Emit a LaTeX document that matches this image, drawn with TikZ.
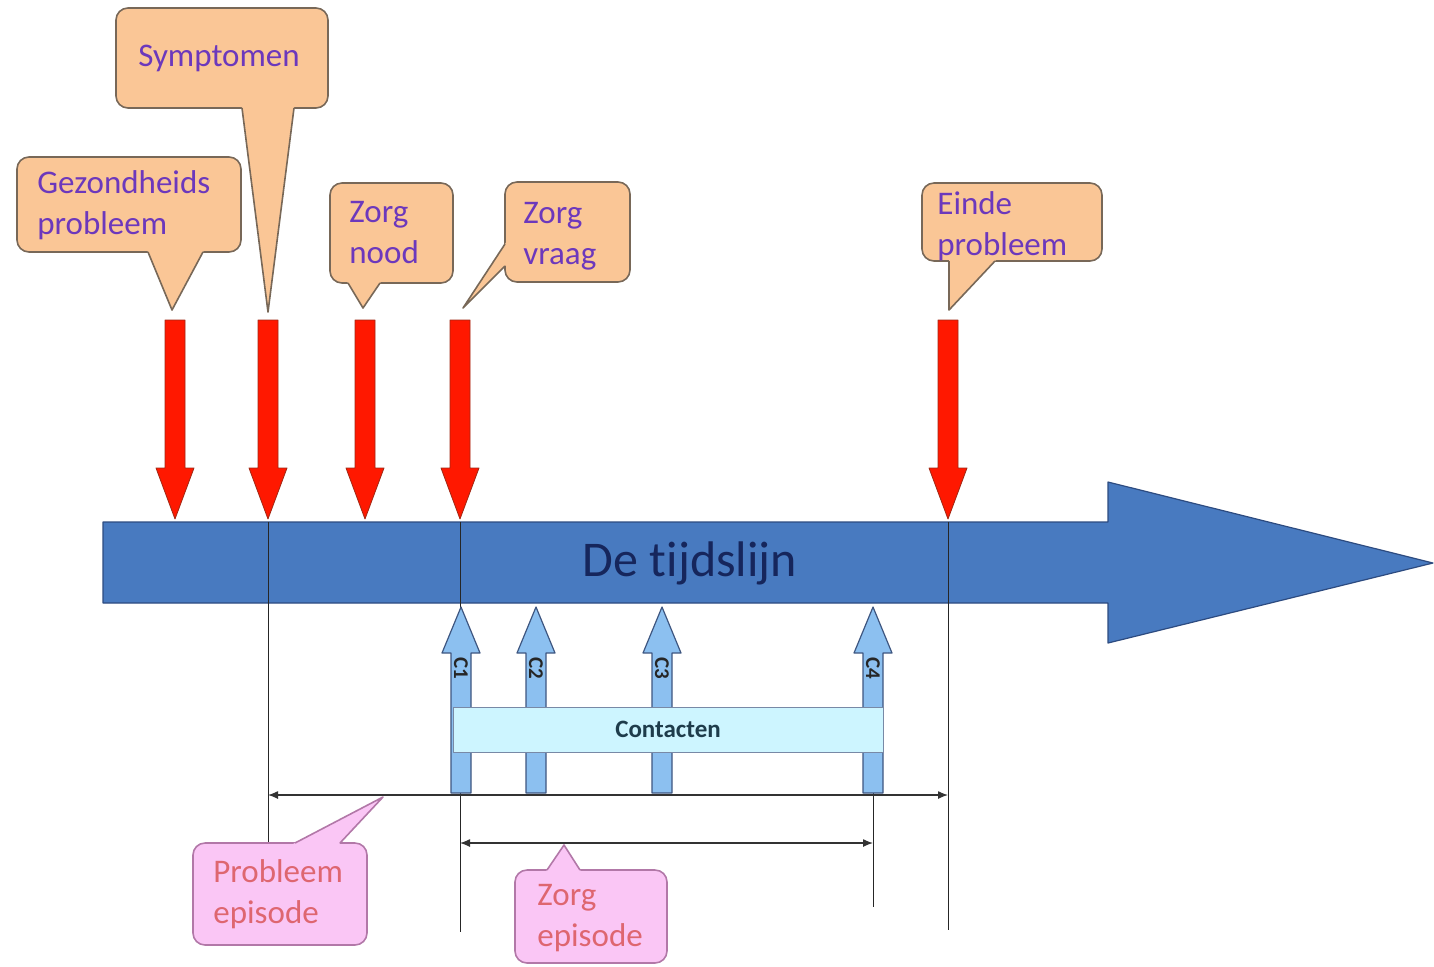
\documentclass[tikz,border=0pt]{standalone}
\usepackage{fontspec}
\setmainfont{Carlito}[Ligatures=NoCommon]
\usetikzlibrary{arrows.meta,calc}

\definecolor{oranje}{RGB}{250,198,150}
\definecolor{oranjerand}{RGB}{120,104,88}
\definecolor{roze}{RGB}{250,198,245}
\definecolor{rozerand}{RGB}{178,120,168}
\definecolor{paars}{RGB}{108,56,188}
\definecolor{zalm}{RGB}{222,102,112}
\definecolor{tijdblauw}{RGB}{72,122,192}
\definecolor{tijdrand}{RGB}{45,75,128}
\definecolor{donkerblauw}{RGB}{22,38,92}
\definecolor{rood}{RGB}{255,24,0}
\definecolor{roodrand}{RGB}{160,40,20}
\definecolor{lichtblauw}{RGB}{140,192,240}
\definecolor{contactrand}{RGB}{62,86,128}
\definecolor{cyaan}{RGB}{205,245,255}

\tikzset{
  tijdlijn/.style={fill=tijdblauw, draw=tijdrand, line width=.6pt},
  rodepijl/.style={fill=rood, draw=roodrand, line width=.4pt},
  contactpijl/.style={fill=lichtblauw, draw=contactrand, line width=.6pt},
  lijn/.style={draw=black!85, line width=.45pt},
  maatlijn/.style={draw=black!80, line width=.6pt, {Latex[length=5pt,width=4pt]}-{Latex[length=5pt,width=4pt]}},
  ballon/.style={draw=oranjerand, fill=oranje, line width=.8pt, rounded corners=6pt},
  rozeballon/.style={draw=rozerand, fill=roze, line width=.8pt, rounded corners=6pt},
  ballontekst/.style={text=paars, font=\fontsize{16.5}{20.5}\selectfont, inner sep=0pt, align=left, anchor=west},
  rozetekst/.style={ballontekst, text=zalm},
  clabel/.style={text=black!85, font=\fontsize{10.5}{12}\selectfont\bfseries, inner sep=0pt, rotate=-90},
  contactvak/.style={fill=cyaan, draw=contactrand!70, line width=.5pt, minimum width=215pt, minimum height=22.5pt,
    text={rgb,255:red,30;green,60;blue,75}, font=\fontsize{12.5}{15}\selectfont\bfseries}
}

% pijlen: rood naar beneden, blauw naar boven
\newcommand{\neerpijl}[1]{\draw[rodepijl] (#1-10,320) -- (#1+10,320) -- (#1+10,468) -- (#1+19,468) -- (#1,519) -- (#1-19,468) -- (#1-10,468) -- cycle;}
\newcommand{\oppijl}[1]{\draw[contactpijl] (#1-10,793) -- (#1-10,653) -- (#1-19,653) -- (#1,607) -- (#1+19,653) -- (#1+10,653) -- (#1+10,793) -- cycle;}
% punt van een ballon: #1 vulkleur, #2 randkleur, #3 en #4 basis, #5 punt
\newcommand{\wig}[5]{\fill[#1] ($(#3)!-3pt!(#5)$) -- ($(#4)!-3pt!(#5)$) -- (#5) -- cycle;
  \draw[#2, line width=.8pt, line join=round] (#3) -- (#5) -- (#4);}

\begin{document}
\begin{tikzpicture}[x=0.5pt,y=-0.5pt,line join=round]
\useasboundingbox (0,0) rectangle (1434,966);

% de tijdslijn
\draw[tijdlijn] (103,522) -- (1108,522) -- (1108,482) -- (1433,563) -- (1108,643) -- (1108,603) -- (103,603) -- cycle;
\node[font=\fontsize{25}{30}\selectfont, text=donkerblauw] (tijdslijn) at (690,563) {De tijdslijn};

% verticale lijnen
\coordinate (symp) at (268,522);
\coordinate (vraag) at (460,522);
\coordinate (einde) at (948,522);
\draw[lijn] (symp) -- (268,848);
\draw[lijn] (vraag) -- (460,932);
\draw[lijn] (einde) -- (948,930);
\draw[lijn] (873,793) -- (873,907);

% gebeurtenissen
\foreach \x in {175,268,365,460,948} \neerpijl{\x};

% contacten
\foreach \x/\c in {461/C1,536/C2,662/C3,873/C4} {
  \oppijl{\x}
  \node[clabel] (\c) at (\x,668) {\c};
}
\node[contactvak] (contacten) at (668,729.5) {Contacten};

% episodes
\coordinate (pe1) at (268,795);
\coordinate (pe2) at (948,795);
\coordinate (ze1) at (460,843);
\coordinate (ze2) at (873,843);
\draw[maatlijn] (pe1) -- (pe2);
\draw[maatlijn] (ze1) -- (ze2);

% ballonnen boven
\draw[ballon] (17,157) rectangle (241,252);
\coordinate (t1) at (172,310);
\coordinate (b1a) at (148,252); \coordinate (b1b) at (203,252);
\wig{oranje}{oranjerand}{b1a}{b1b}{t1}
\node[ballontekst] (gezond) at (37,205) {Gezondheids\\probleem};

\draw[ballon] (116,8) rectangle (328,108);
\coordinate (t2) at (268,312);
\coordinate (b2a) at (242,108); \coordinate (b2b) at (294,108);
\wig{oranje}{oranjerand}{b2a}{b2b}{t2}
\node[ballontekst, anchor=center] (symptomen) at (219,58) {Symptomen};

\draw[ballon] (330,183) rectangle (453,283);
\coordinate (t3) at (363,308);
\coordinate (b3a) at (348,283); \coordinate (b3b) at (380,283);
\wig{oranje}{oranjerand}{b3a}{b3b}{t3}
\node[ballontekst] (nood) at (349,233) {Zorg\\nood};

\draw[ballon] (505,182) rectangle (630,282);
\coordinate (t4) at (463,308);
\coordinate (b4a) at (505,244); \coordinate (b4b) at (505,266);
\wig{oranje}{oranjerand}{b4a}{b4b}{t4}
\node[ballontekst] (vraagtekst) at (523,236) {Zorg\\vraag};

\draw[ballon] (922,183) rectangle (1102,261);
\coordinate (t5) at (949,310);
\coordinate (b5a) at (949,261); \coordinate (b5b) at (995,261);
\wig{oranje}{oranjerand}{b5a}{b5b}{t5}
\node[ballontekst] (eindetekst) at (937,226) {Einde\\probleem};

% ballonnen onder
\draw[rozeballon] (193,843) rectangle (367,945);
\coordinate (t6) at (383,797);
\coordinate (b6a) at (295,843); \coordinate (b6b) at (340,843);
\wig{roze}{rozerand}{b6a}{b6b}{t6}
\node[rozetekst] (probep) at (213,894) {Probleem\\episode};

\draw[rozeballon] (515,870) rectangle (667,963);
\coordinate (t7) at (564,845);
\coordinate (b7a) at (547,870); \coordinate (b7b) at (580,870);
\wig{roze}{rozerand}{b7a}{b7b}{t7}
\node[rozetekst] (zorgep) at (537,918) {Zorg\\episode};
\end{tikzpicture}
\end{document}
